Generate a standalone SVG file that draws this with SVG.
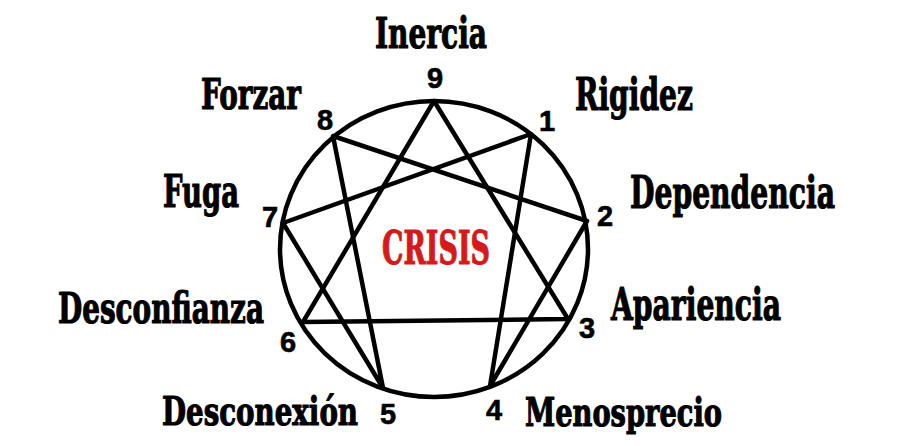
<svg xmlns="http://www.w3.org/2000/svg" width="900" height="446" viewBox="0 0 900 446">
<style>
.lbl{font-family:"DejaVu Serif","Liberation Serif",serif;font-weight:bold;fill:#000;stroke:#000;stroke-width:1.2;stroke-linejoin:round}
.num{font-family:"Liberation Sans",Arial,sans-serif;font-weight:bold;font-size:29px;fill:#000;stroke:#000;stroke-width:0.6;text-anchor:middle}
.ln{stroke:#000;stroke-width:4.5;fill:none;stroke-linejoin:round;stroke-linecap:round}
.red{fill:#d41a1a;stroke:#d41a1a}
</style>
<rect width="900" height="446" fill="#fff"/>
<g id="circle"><ellipse class="ln" cx="434" cy="249" rx="154" ry="148" stroke-width="5"/></g>
<g id="connectors">
<polygon class="ln" points="434,101 568,319 303,322"/>
<polyline class="ln" points="531,134 490,386 587,221 333,136 383,388 283,223 531,134"/>
</g>
<g id="n9"><text class="num" x="435" y="88">9</text><text class="lbl" x="375" y="48" font-size="43" textLength="112" lengthAdjust="spacingAndGlyphs">Inercia</text></g>
<g id="n1"><text class="num" x="547" y="131">1</text><text class="lbl" x="575" y="110" font-size="45" textLength="118" lengthAdjust="spacingAndGlyphs">Rigidez</text></g>
<g id="n2"><text class="num" x="605" y="226">2</text><text class="lbl" x="630" y="208" font-size="45" textLength="205" lengthAdjust="spacingAndGlyphs">Dependencia</text></g>
<g id="n3"><text class="num" x="587" y="338">3</text><text class="lbl" x="611" y="320" font-size="45" textLength="170" lengthAdjust="spacingAndGlyphs">Apariencia</text></g>
<g id="n4"><text class="num" x="494" y="420">4</text><text class="lbl" x="525" y="426" font-size="40" textLength="197" lengthAdjust="spacingAndGlyphs">Menosprecio</text></g>
<g id="n5"><text class="num" x="388" y="424">5</text><text class="lbl" x="162" y="425" font-size="40" textLength="196" lengthAdjust="spacingAndGlyphs">Desconexión</text></g>
<g id="n6"><text class="num" x="288" y="352">6</text><text class="lbl" x="58" y="323" font-size="43" textLength="206" lengthAdjust="spacingAndGlyphs">Desconfianza</text></g>
<g id="n7"><text class="num" x="270" y="227">7</text><text class="lbl" x="163" y="207" font-size="44" textLength="76" lengthAdjust="spacingAndGlyphs">Fuga</text></g>
<g id="n8"><text class="num" x="325" y="130">8</text><text class="lbl" x="201" y="109" font-size="43" textLength="100" lengthAdjust="spacingAndGlyphs">Forzar</text></g>
<g id="center"><text class="lbl red" x="382" y="264" font-size="46" textLength="108" lengthAdjust="spacingAndGlyphs">CRISIS</text></g>
</svg>
